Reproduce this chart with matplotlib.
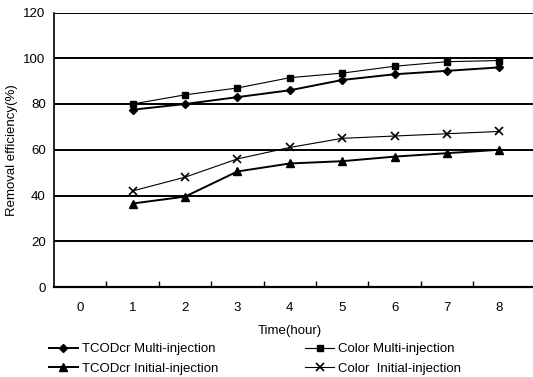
import matplotlib
matplotlib.use("Agg")
import matplotlib.pyplot as plt
from matplotlib.lines import Line2D

plt.rcParams['font.family'] = ['Liberation Sans', 'DejaVu Sans']

categories = ["0", "1", "2", "3", "4", "5", "6", "7", "8"]
hours = [1, 2, 3, 4, 5, 6, 7, 8]
tcod_multi = [77.5, 80, 83, 86, 90.5, 93, 94.5, 96]
color_multi = [80, 84, 87, 91.5, 93.5, 96.5, 98.5, 99]
tcod_initial = [36.5, 39.5, 50.5, 54, 55, 57, 58.5, 60]
color_initial = [42, 48, 56, 61, 65, 66, 67, 68]
yticks = [0, 20, 40, 60, 80, 100, 120]

FS = 9.5
fig = plt.figure(figsize=(5.33, 3.77), dpi=100)
ax = fig.add_axes([54/533, 1-287/377, 1-54/533, (287-12.5)/377])

for y in yticks[1:]:
    ax.axhline(y, color='black', lw=1.4, zorder=1)

ax.plot(hours, tcod_multi, color='black', lw=1.4, marker='D', ms=4.5, zorder=3)
ax.plot(hours, color_multi, color='black', lw=0.8, marker='s', ms=5, zorder=3)
ax.plot(hours, tcod_initial, color='black', lw=1.4, marker='^', ms=6, zorder=3)
ax.plot(hours, color_initial, color='black', lw=0.8, marker='x', ms=6, mew=1.2, zorder=3)

ax.set_xlim(-0.5, 8.64)
ax.set_ylim(0, 120)
ax.set_xticks(range(len(categories)))
ax.set_xticklabels(categories, fontsize=FS)
ax.set_xticks([i + 0.5 for i in range(8)], minor=True)
ax.tick_params(axis='x', which='major', length=0, pad=11)
ax.tick_params(axis='x', which='minor', direction='in', length=4, width=1)
ax.set_yticks(yticks)
ax.set_yticklabels([str(v) for v in yticks], fontsize=FS)
ax.tick_params(axis='y', length=0, pad=6)

for s in ['top', 'right']:
    ax.spines[s].set_visible(False)
ax.spines['left'].set_linewidth(1.2)
ax.spines['bottom'].set_linewidth(1.6)

ax.set_xlabel("Time(hour)", fontsize=FS)
ax.xaxis.set_label_coords((290-54)/479, -(331-287)/274.5)
ax.xaxis.label.set_va('center')
ax.set_ylabel("Removal efficiency(%)", fontsize=FS)
ax.yaxis.set_label_coords(-(54-12)/479, (287-150)/274.5)
ax.yaxis.label.set_va('center')

handles = [
    Line2D([], [], color='black', lw=1.4, marker='D', ms=4.5),
    Line2D([], [], color='black', lw=1.4, marker='^', ms=6),
    Line2D([], [], color='black', lw=0.8, marker='s', ms=5),
    Line2D([], [], color='black', lw=0.8, marker='x', ms=6, mew=1.2),
]
labels = ["TCODcr Multi-injection", "TCODcr Initial-injection",
          "Color Multi-injection", "Color  Initial-injection"]
fig.legend(handles, labels, ncol=2, frameon=False, fontsize=FS,
           loc='center left', bbox_to_anchor=(37/533, 1-359/377),
           handlelength=2.2, handletextpad=0.3, columnspacing=6.6,
           labelspacing=0.55)

fig.savefig("out.png", dpi=100)
